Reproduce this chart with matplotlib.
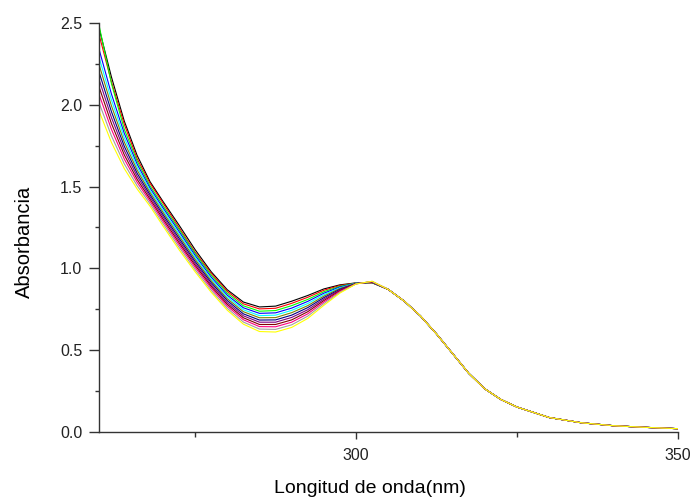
import numpy as np
import matplotlib
matplotlib.use("Agg")
import matplotlib.pyplot as plt
from matplotlib.ticker import MultipleLocator

# wavelengths (nm) where the curves differ, and the shared tail
wl_head = [260, 262, 264, 266, 268, 270, 272.5, 275, 277.5, 280, 282.5, 285,
           287.5, 290, 292.5, 295, 297.5, 300, 302.5]
wl_tail = [305, 307.5, 310, 312.5, 315, 317.5, 320, 322.5, 325, 330, 335, 340, 345, 350]
abs_tail = [0.872, 0.80, 0.71, 0.60, 0.48, 0.36, 0.265, 0.20, 0.154, 0.09, 0.058, 0.04, 0.03, 0.022]

# absorbance, top curve to bottom curve
abs_01 = [2.48, 2.17, 1.90, 1.69, 1.53, 1.41, 1.265, 1.115, 0.98, 0.87, 0.795, 0.765, 0.77, 0.80, 0.835, 0.875, 0.90, 0.912, 0.912]
abs_02 = [2.44, 2.14, 1.88, 1.67, 1.52, 1.40, 1.25, 1.10, 0.970, 0.860, 0.784, 0.753, 0.757, 0.787, 0.824, 0.867, 0.896, 0.911, 0.913]
abs_03 = [2.50, 2.13, 1.85, 1.655, 1.504, 1.384, 1.239, 1.092, 0.959, 0.849, 0.772, 0.739, 0.743, 0.773, 0.811, 0.858, 0.891, 0.911, 0.914]
abs_04 = [2.35, 2.066, 1.825, 1.637, 1.491, 1.371, 1.226, 1.080, 0.947, 0.837, 0.760, 0.726, 0.729, 0.758, 0.799, 0.849, 0.887, 0.910, 0.915]
abs_05 = [2.30, 2.03, 1.798, 1.618, 1.477, 1.357, 1.212, 1.068, 0.936, 0.826, 0.748, 0.712, 0.715, 0.744, 0.786, 0.840, 0.882, 0.910, 0.916]
abs_06 = [2.256, 1.994, 1.772, 1.600, 1.464, 1.344, 1.199, 1.056, 0.925, 0.815, 0.736, 0.699, 0.700, 0.730, 0.773, 0.831, 0.878, 0.909, 0.916]
abs_07 = [2.210, 1.958, 1.746, 1.581, 1.450, 1.330, 1.185, 1.043, 0.914, 0.804, 0.723, 0.685, 0.686, 0.715, 0.761, 0.822, 0.873, 0.908, 0.917]
abs_08 = [2.164, 1.922, 1.720, 1.563, 1.437, 1.317, 1.172, 1.031, 0.902, 0.792, 0.711, 0.672, 0.672, 0.701, 0.748, 0.813, 0.869, 0.908, 0.918]
abs_09 = [2.118, 1.886, 1.694, 1.544, 1.423, 1.303, 1.158, 1.019, 0.891, 0.781, 0.699, 0.658, 0.658, 0.686, 0.736, 0.804, 0.864, 0.907, 0.919]
abs_10 = [2.072, 1.85, 1.668, 1.526, 1.41, 1.29, 1.145, 1.007, 0.88, 0.77, 0.687, 0.645, 0.644, 0.672, 0.723, 0.795, 0.86, 0.906, 0.920]
abs_11 = [2.021, 1.81, 1.639, 1.505, 1.395, 1.275, 1.13, 0.993, 0.867, 0.757, 0.673, 0.63, 0.628, 0.656, 0.709, 0.785, 0.855, 0.906, 0.921]
abs_12 = [1.97, 1.77, 1.61, 1.485, 1.38, 1.26, 1.115, 0.98, 0.855, 0.745, 0.66, 0.615, 0.612, 0.64, 0.695, 0.775, 0.85, 0.905, 0.922]

curves = [abs_01, abs_02, abs_03, abs_04, abs_05, abs_06,
          abs_07, abs_08, abs_09, abs_10, abs_11, abs_12]
colors = ['#000000', '#ff0000', '#00ff00', '#0000ff', '#00ffff', '#808000',
          '#000080', '#800080', '#800000', '#ff0080', '#a0a0a0', '#ffff00']

plt.rcParams['font.family'] = ['Liberation Sans', 'DejaVu Sans']

fig = plt.figure(figsize=(6.93, 4.99), dpi=100)
ax = fig.add_axes([98.5 / 693, 0.1337, 579.5 / 693, 0.8208])

wl = wl_head + wl_tail
for vals, c in zip(curves, colors):
    ax.plot(wl, vals + abs_tail, color=c, linewidth=0.8)

ax.set_xlim(260, 350)
ax.set_ylim(0, 2.5)

ax.spines['top'].set_visible(False)
ax.spines['right'].set_visible(False)
for s in ['left', 'bottom']:
    ax.spines[s].set_color('#333333')
    ax.spines[s].set_linewidth(1.0)

ax.xaxis.set_major_locator(MultipleLocator(50))
ax.xaxis.set_minor_locator(MultipleLocator(25))
ax.yaxis.set_major_locator(MultipleLocator(0.5))
ax.yaxis.set_minor_locator(MultipleLocator(0.25))
ax.yaxis.set_major_formatter(plt.FormatStrFormatter('%.1f'))

ax.tick_params(axis='x', which='major', direction='out', length=5, width=1,
               color='#333333', labelsize=11.5, labelcolor='#222222', pad=6)
ax.tick_params(axis='x', which='minor', direction='out', length=3.5, width=1,
               color='#333333')
ax.tick_params(axis='y', which='major', direction='out', length=7.2, width=1,
               color='#333333', labelsize=11.5, labelcolor='#222222', pad=4.5)
ax.tick_params(axis='y', which='minor', direction='out', length=3, width=1,
               color='#333333')

ax.set_xlabel('Longitud de onda(nm)', fontsize=14, va='center')
ax.set_ylabel('Absorbancia', fontsize=14.5, va='center')
ax.xaxis.set_label_coords(0.4685, -0.137)
ax.yaxis.set_label_coords(-0.127, 0.465)

fig.savefig('out.png', dpi=100)
